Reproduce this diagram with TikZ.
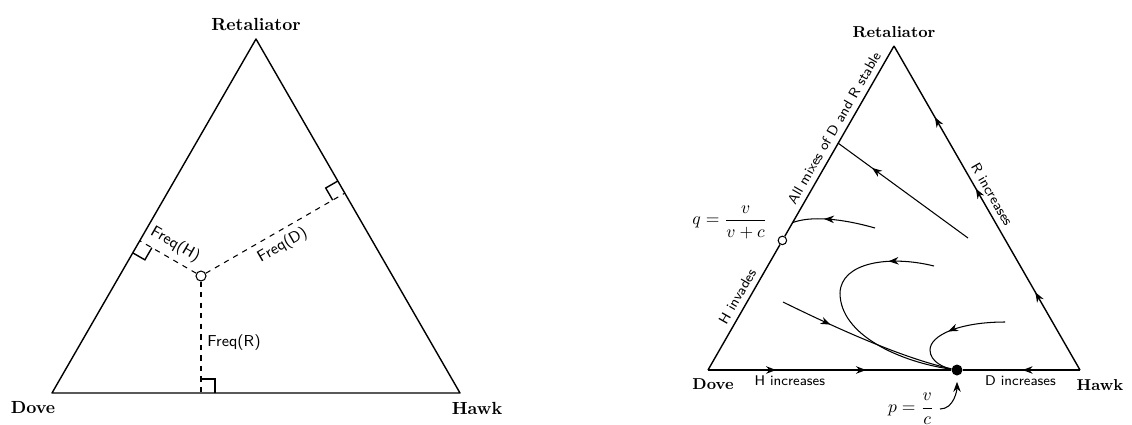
\documentclass[tikz,border=0pt]{standalone}
\usepackage{amsmath}
\usetikzlibrary{arrows.meta,calc,decorations.markings}
\tikzset{
    simplex diagram/.style = {>={Stealth[length=2mm]}, x=0.02cm, y=-0.02cm},
    simplex/.style   = {thick, line join=round},
    vertex/.style    = {font=\bfseries},
    freq/.style      = {font=\small\sffamily},
    edge note/.style = {font=\footnotesize\sffamily},
    perp/.style      = {dashed, semithick},
    corner/.style    = {thick},
    open pt/.style   = {draw, semithick, fill=white, circle,
                        inner sep=0pt, minimum size=2mm},
    rest pt/.style   = {fill, circle, inner sep=0pt, minimum size=2.2mm},
    traj/.style      = {semithick},
    flow/.style      = {postaction={decorate, decoration={markings,
                        mark=at position #1 with {\arrow{Stealth[length=2mm]}}}}}
}

\begin{document}
\begin{tikzpicture}[simplex diagram]
\useasboundingbox (0,0) rectangle (1132,424);

% ================= Left simplex: frequencies =================
\coordinate (D1) at (52,393);
\coordinate (H1) at (460,393);
\coordinate (R1) at (256,39);
\draw[simplex] (D1) -- (H1) -- (R1) -- cycle;
\node[vertex, above=1pt] (ret1) at (R1) {Retaliator};
\node[vertex] (dove1) at (33,408) {Dove};
\node[vertex] (hawk1) at (477,408) {Hawk};

% ================= Mixed population and its distances =================
\node[open pt] (mix) at (201,276) {};
\coordinate (fR) at (mix |- D1);
\coordinate (fH) at ($(D1)!(mix)!(R1)$);
\coordinate (fD) at ($(H1)!(mix)!(R1)$);
\draw[perp] (mix) -- node[freq, sloped, above] {Freq(H)} (fH);
\draw[perp] (mix) -- node[freq, sloped, below] {Freq(D)} (fD);
\draw[perp] (mix) -- node[freq, right, pos=0.55] {Freq(R)} (fR);

% ================= Right angle marks =================
\draw[corner] ($(fR)!0.28cm!(H1)$) -- ++($(fR)!0.28cm!(mix)-(fR)$)
    -- ($(fR)!0.28cm!(mix)$);
\draw[corner] ($(fH)!0.28cm!(D1)$) -- ++($(fH)!0.28cm!(mix)-(fH)$)
    -- ($(fH)!0.28cm!(mix)$);
\draw[corner] ($(fD)!0.28cm!(R1)$) -- ++($(fD)!0.28cm!(mix)-(fD)$)
    -- ($(fD)!0.28cm!(mix)$);

% ================= Right simplex: dynamics =================
\coordinate (D2) at (708,370);
\coordinate (H2) at (1080,370);
\coordinate (R2) at (894,46);
\node[rest pt] (pdot) at (957,370) {};
\node[open pt, minimum size=1.7mm] (qpt) at ($(D2)!0.4!(R2)$) {};
\node[vertex, font=\small\bfseries, above=1pt] (ret2) at (R2) {Retaliator};
\node[vertex, font=\small\bfseries] (dove2) at (713,384) {Dove};
\node[vertex, font=\small\bfseries] (hawk2) at (1100,385) {Hawk};

% edges with their flow
\draw[simplex, flow=0.28, flow=0.65] (D2) -- (pdot);
\draw[simplex, flow=0.49] (H2) -- (pdot);
\draw[simplex, flow=0.24, flow=0.56, flow=0.78] (H2) -- (R2);
\draw[simplex] (D2) -- (qpt) -- (R2);

% edge notes
\path (D2) -- node[edge note, sloped, above, pos=0.21] {H invades} (R2);
\path (D2) -- node[edge note, sloped, above, pos=0.73] {All mixes of D and R stable} (R2);
\path (R2) -- node[edge note, sloped, above, pos=0.475] {R increases} (H2);
\path (D2) -- node[edge note, below, pos=0.22] {H increases} (H2);
\path (D2) -- node[edge note, below, pos=0.84] {D increases} (H2);

% ================= Trajectories =================
\coordinate (t1) at (968,238);
\coordinate (e1) at ($(D2)!0.70!(R2)$);
\coordinate (t2) at (875,228);
\coordinate (e2) at ($(D2)!0.455!(R2)$);
\coordinate (t3) at (934,266);
\coordinate (t4) at (783,302);
\coordinate (t5) at (1005,322);
\draw[traj, flow=0.74] (t1) -- (e1);
\draw[traj, flow=0.62] (t2) .. controls (840,218) and (810,216) .. (e2);
\draw[traj, flow=0.18] (t3) .. controls (890,255) and (841,262) .. (840,293)
    .. controls (840,335) and (900,362) .. (pdot);
\draw[traj, flow=0.29] (t4) .. controls (850,335) and (910,360) .. (pdot);
\draw[traj, flow=0.5] (t5) .. controls (960,322) and (930,335) .. (930,350)
    .. controls (930,362) and (945,368) .. (pdot);

% ================= Rest points =================
\node[anchor=east] (qlab) at (773,222) {$q=\dfrac{v}{v+c}$};
\node (plab) at (911,409) {$p=\dfrac{v}{c}$};
\draw[->, semithick, shorten >=1.2mm] (plab.east) .. controls +(14,0) and +(0,14) .. (pdot.south);

\end{tikzpicture}
\end{document}
